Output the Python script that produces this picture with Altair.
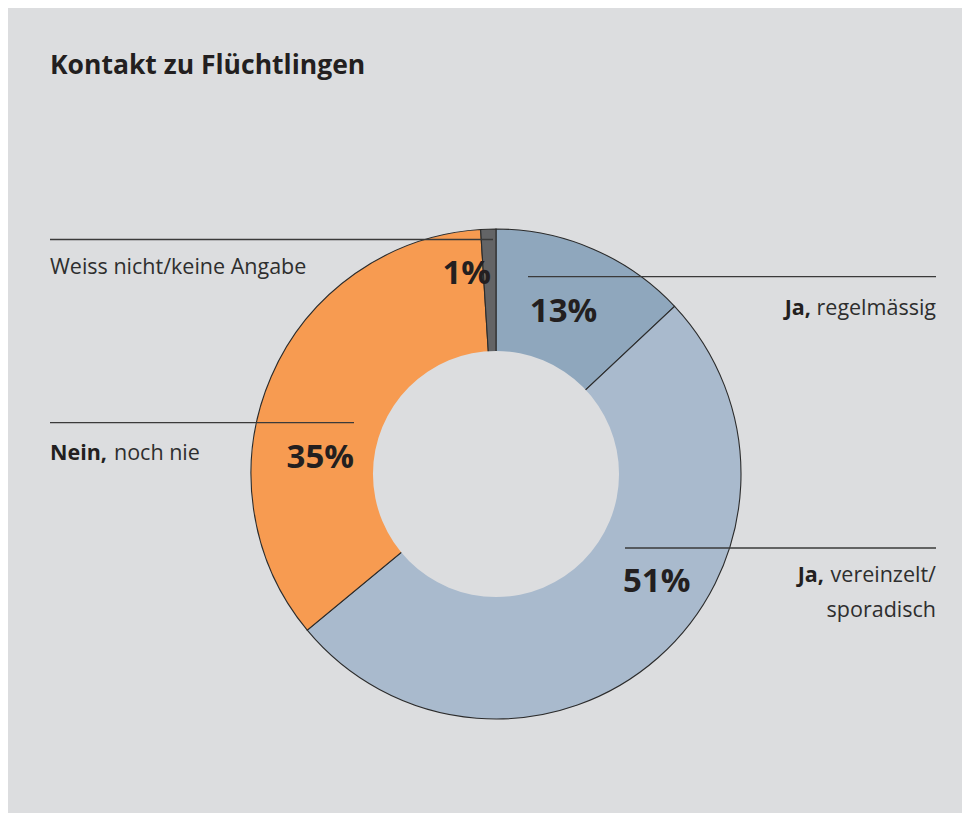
import altair as alt
import pandas as pd

# ---- data ----
categories = ["Ja, regelmässig", "Ja, vereinzelt/sporadisch", "Nein, noch nie", "Weiss nicht/keine Angabe"]
values = [13, 51, 35, 1]
pct_labels = ["13%", "51%", "35%", "1%"]
colors = ["#8fa7bd", "#a9bacd", "#f79b51", "#636466"]

BG = "#dcdddf"
FONT = "Open Sans"
TXT = "#231f20"
W, H = 954, 805
CX, CY = 488, 466
R_OUT, R_IN = 245, 123

df = pd.DataFrame({"cat": categories, "val": values, "ord": list(range(len(values)))})

pie = alt.Chart(df).mark_arc(
    radius=R_OUT, stroke="#2b2b2b", strokeWidth=1.1
).encode(
    theta=alt.Theta("val:Q", stack=True),
    order=alt.Order("ord:Q"),
    color=alt.Color("cat:N", scale=alt.Scale(domain=categories, range=colors), legend=None),
    x=alt.value(CX), y=alt.value(CY),
)

hole = alt.Chart(pd.DataFrame({"a": [1]})).mark_arc(
    radius=R_IN, theta=0, theta2=6.2832, color=BG, strokeWidth=0
).encode(x=alt.value(CX), y=alt.value(CY))

# leader lines (layout)
lines = pd.DataFrame({
    "x": [42, 520, 42, 617],
    "x2": [485, 928, 346, 928],
    "y": [231.5, 268.7, 414.7, 540],
})
rules = alt.Chart(lines).mark_rule(color="#3a3a3a", strokeWidth=1.3).encode(
    x=alt.X("x:Q", scale=None), x2="x2:Q", y=alt.Y("y:Q", scale=None)
)

def txt(text, x, y, size, weight="normal", align="left", color=TXT):
    return alt.Chart(pd.DataFrame({"t": [text]})).mark_text(
        font=FONT, fontSize=size, fontWeight=weight, align=align,
        baseline="alphabetic", color=color
    ).encode(text="t:N", x=alt.value(x), y=alt.value(y))

layers = [pie, hole, rules]

# title
layers.append(txt("Kontakt zu Flüchtlingen", 42, 66, 26.5, "bold"))

LS = 21.5
# category labels
layers += [
    txt("Weiss nicht/keine Angabe", 42, 266.3, LS, color="#2e2e2e"),
    txt("Nein,", 42, 452, LS, "bold"),
    txt("noch nie", 106, 452, LS, color="#2e2e2e"),
    txt("regelmässig", 928, 307, LS, align="right", color="#2e2e2e"),
    txt("Ja,", 803, 307, LS, "bold", align="right"),
    txt("vereinzelt/", 928, 573.7, LS, align="right", color="#2e2e2e"),
    txt("Ja,", 816, 573.7, LS, "bold", align="right"),
    txt("sporadisch", 928, 608.7, LS, align="right", color="#2e2e2e"),
]

# percentage labels
pct_pos = [(555.5, 313.7), (648.7, 584.3), (312.3, 460.3), (458.7, 276)]
for lab, (px, py) in zip(pct_labels, pct_pos):
    layers.append(txt(lab, px, py, 33, "bold", align="center"))

chart = alt.layer(*layers).properties(
    width=W, height=H, background=BG, padding=0
).configure_view(stroke=None)

chart.save("out.html", embed_options={"renderer": "svg", "actions": False})
